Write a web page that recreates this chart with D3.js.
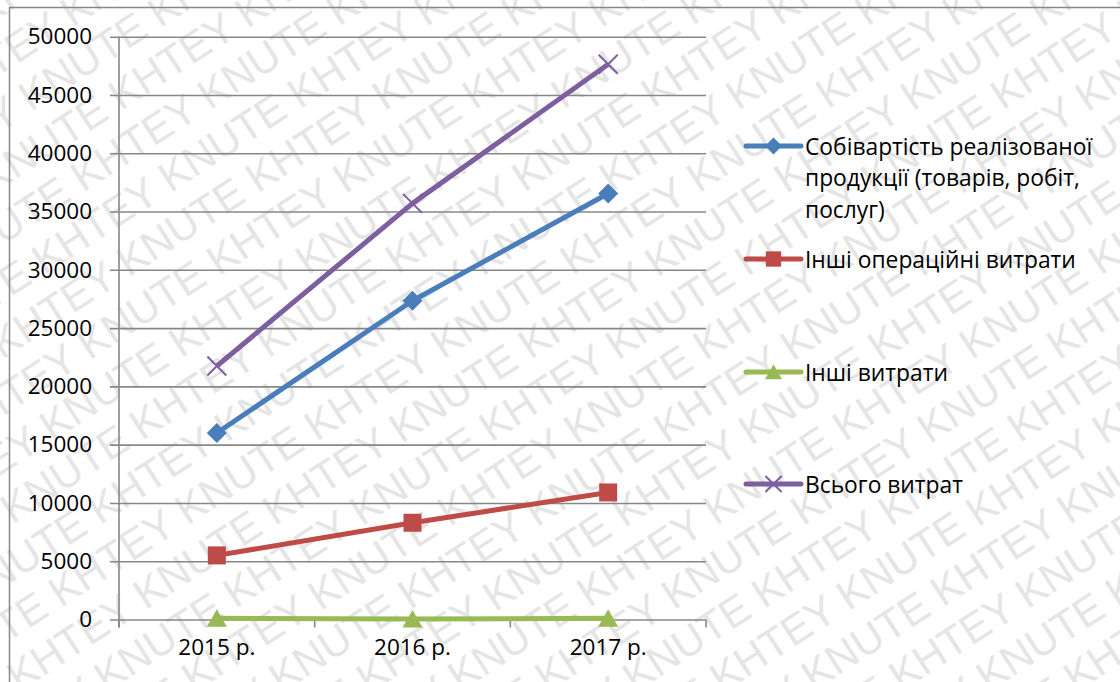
<!DOCTYPE html>
<html>
<head>
<meta charset="utf-8">
<script src="https://cdn.jsdelivr.net/npm/d3@7"></script>
<style>
  html, body { margin: 0; padding: 0; background: #fff; }
  svg { display: block; }
</style>
</head>
<body>
<svg id="chart" width="1120" height="682"></svg>
<script>
// Витрати підприємства за 2015–2017 рр.
const categories = ["2015 р.", "2016 р.", "2017 р."];
const costOfSales = [16000, 27350, 36550];
const otherOperating = [5500, 8300, 10900];
const otherExpenses = [100, 50, 100];
const totalExpenses = [21750, 35700, 47630];
const yTicks = [0, 5000, 10000, 15000, 20000, 25000, 30000, 35000, 40000, 45000, 50000];

const series = [
  { name: ["Собівартість реалізованої", "продукції (товарів, робіт,", "послуг)"], values: costOfSales, color: "#4A7EBB", marker: "diamond" },
  { name: ["Інші операційні витрати"], values: otherOperating, color: "#BE4B48", marker: "square" },
  { name: ["Інші витрати"], values: otherExpenses, color: "#98B954", marker: "triangle" },
  { name: ["Всього витрат"], values: totalExpenses, color: "#7D5FA0", marker: "cross" }
];

const W = 1120, H = 682;
const plot = { left: 119, right: 706, top: 36.7, bottom: 619.5 };
const FONT = "'Open Sans', 'Noto Sans', sans-serif";
const gridColor = "#878787";

const svg = d3.select("#chart");

// background watermark, clipped to the page
svg.append("clipPath").attr("id", "page")
  .append("rect").attr("width", W).attr("height", H);
const wm = svg.append("g")
  .attr("clip-path", "url(#page)")
  .append("g")
  .attr("transform", "rotate(-33, 560, 341)")
  .attr("font-family", "'Liberation Sans', Arial, sans-serif")
  .attr("font-size", 42)
  .attr("fill", "#e5e5e5");
const rowStep = 48;
d3.range(-15, 16).forEach(i => {
  const words = [];
  for (let k = 0; k < 20; k++) words.push((k + i) % 2 === 0 ? "KHTEY" : "KNUTE");
  wm.append("text")
    .attr("x", -1000 + ((i * 73) % 300))
    .attr("y", 341 + i * rowStep)
    .text(words.join(" "));
});

// chart frame
svg.append("rect")
  .attr("x", 9.5).attr("y", 7.5)
  .attr("width", W + 10).attr("height", H + 10)
  .attr("fill", "none")
  .attr("stroke", gridColor).attr("stroke-width", 1.5);

const x = d3.scaleBand().domain(categories).range([plot.left, plot.right]).paddingInner(0).paddingOuter(0);
const y = d3.scaleLinear().domain([0, 50000]).range([plot.bottom, plot.top]);
const cx = c => x(c) + x.bandwidth() / 2;

// y axis with gridlines
const yAxis = d3.axisLeft(y).tickValues(yTicks).tickSize(-(plot.right - plot.left)).tickPadding(18).tickFormat(d3.format("d"));
const gy = svg.append("g").attr("transform", `translate(${plot.left},0)`).call(yAxis);
gy.select(".domain").remove();
gy.selectAll(".tick line")
  .attr("x1", -9)
  .attr("stroke", gridColor).attr("stroke-width", 1.6);
gy.selectAll(".tick text")
  .attr("font-family", FONT).attr("font-size", 22.5).attr("fill", "#000")
  .attr("x", -27);

// vertical axis line
svg.append("line")
  .attr("x1", plot.left).attr("x2", plot.left)
  .attr("y1", plot.top).attr("y2", plot.bottom + 8)
  .attr("stroke", gridColor).attr("stroke-width", 1.6);

// x axis category boundaries and labels
const xAxis = d3.axisBottom(x).tickSize(0).tickPadding(20);
const gx = svg.append("g").attr("transform", `translate(0,${plot.bottom})`).call(xAxis);
gx.select(".domain").remove();
gx.selectAll(".tick text")
  .attr("font-family", FONT).attr("font-size", 22.5).attr("fill", "#000");
const bounds = categories.map(c => x(c)).concat([x(categories[categories.length - 1]) + x.bandwidth()]);
svg.append("g").selectAll("line").data(bounds).join("line")
  .attr("x1", d => d).attr("x2", d => d)
  .attr("y1", plot.bottom).attr("y2", plot.bottom + 8)
  .attr("stroke", gridColor).attr("stroke-width", 1.6);

function drawMarker(g, type, color, px, py, s) {
  if (type === "diamond") {
    g.append("path")
      .attr("d", `M${px},${py - s}L${px + s},${py}L${px},${py + s}L${px - s},${py}Z`)
      .attr("fill", color);
  } else if (type === "square") {
    g.append("rect")
      .attr("x", px - s * 0.9).attr("y", py - s * 0.9)
      .attr("width", s * 1.8).attr("height", s * 1.8)
      .attr("fill", color);
  } else if (type === "triangle") {
    g.append("path")
      .attr("d", `M${px},${py - s * 0.9}L${px + s},${py + s * 0.85}L${px - s},${py + s * 0.85}Z`)
      .attr("fill", color);
  } else if (type === "cross") {
    g.append("path")
      .attr("d", `M${px - s * 0.95},${py - s * 0.95}L${px + s * 0.95},${py + s * 0.95}M${px + s * 0.95},${py - s * 0.95}L${px - s * 0.95},${py + s * 0.95}`)
      .attr("stroke", color).attr("stroke-width", 2).attr("fill", "none");
  }
}

const line = d3.line().x((d, i) => cx(categories[i])).y(d => y(d));

// series lines and markers
series.forEach(s => {
  const g = svg.append("g");
  g.append("path")
    .datum(s.values)
    .attr("d", line)
    .attr("fill", "none")
    .attr("stroke", s.color)
    .attr("stroke-width", 5)
    .attr("stroke-linejoin", "round");
  s.values.forEach((v, i) => drawMarker(g, s.marker, s.color, cx(categories[i]), y(v), 10));
});

// legend
const legendY = [146, 259, 372, 484];
const legend = svg.append("g");
series.forEach((s, i) => {
  const ly = legendY[i];
  const g = legend.append("g");
  g.append("line")
    .attr("x1", 746).attr("x2", 801).attr("y1", ly).attr("y2", ly)
    .attr("stroke", s.color).attr("stroke-width", 5).attr("stroke-linecap", "round");
  drawMarker(g, s.marker, s.color, 773.5, ly, 8.5);
  const t = g.append("text")
    .attr("font-family", FONT).attr("font-size", 22.8).attr("fill", "#000");
  s.name.forEach((ln, j) => {
    t.append("tspan")
      .attr("x", 805)
      .attr("y", ly + 8.5 + j * 31.5)
      .text(ln);
  });
});
</script>
</body>
</html>
